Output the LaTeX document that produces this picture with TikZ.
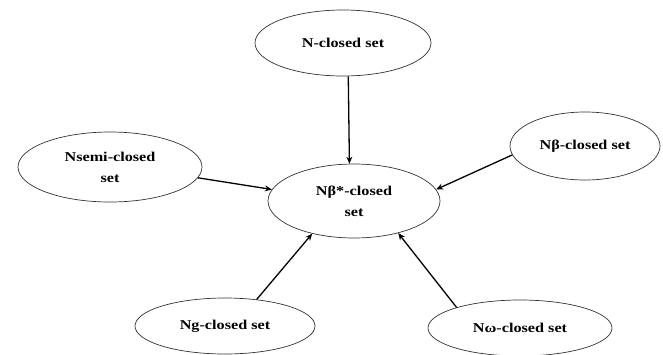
\documentclass[tikz,border=0pt]{standalone}
\usepackage{fontspec}
\setmainfont{Liberation Serif}[FakeStretch=1.2]
\usetikzlibrary{shapes.geometric,arrows.meta}
\begin{document}
\begin{tikzpicture}[x=1pt,y=-1pt,
  setnode/.style={ellipse,draw=black!80,line width=0.7pt,inner sep=0pt,align=center,
    font=\fontsize{13.5}{21}\selectfont\bfseries},
  arr/.style={line width=1.3pt,-{Stealth[length=7pt,width=6pt]}}]
\useasboundingbox[fill=white] (0,0) rectangle (663,354);
\node[setnode,minimum width=176pt,minimum height=66pt] (n) at (343,43) {N-closed set};
\node[setnode,minimum width=184pt,minimum height=70pt] (ns) at (110,167) {Nsemi-closed\\set};
\node[setnode,minimum width=172pt,minimum height=74pt] (c) at (354,201) {Nβ*-closed\\set};
\node[setnode,minimum width=150pt,minimum height=68pt] (nb) at (585,146) {Nβ-closed set};
\node[setnode,minimum width=180pt,minimum height=56pt] (ng) at (225,326) {Ng-closed set};
\node[setnode,minimum width=184pt,minimum height=56pt] (nw) at (520,328) {Nω-closed set};
\draw[arr] (n.279) -- (c.97);
\draw[arr] (ns.353) -- (c.172);
\draw[arr] (nb.187) -- (c.8);
\draw[arr] (ng.40) -- (c.218);
\draw[arr] (nw.162) -- (c.324);
\end{tikzpicture}
\end{document}
